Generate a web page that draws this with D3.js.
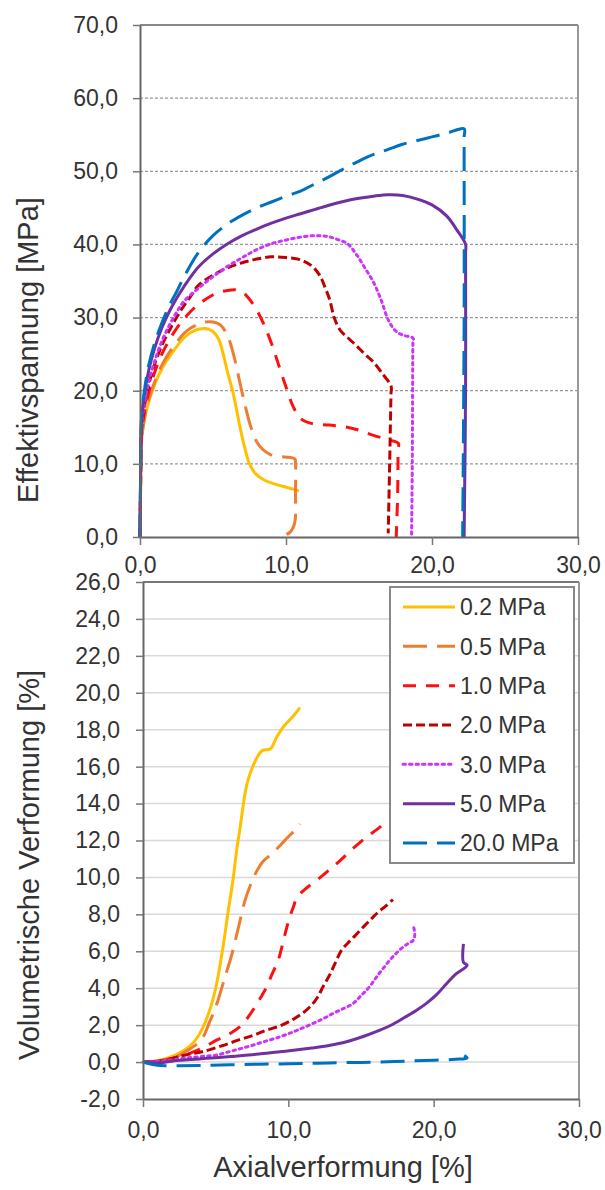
<!DOCTYPE html>
<html><head><meta charset="utf-8">
<script src="https://cdn.jsdelivr.net/npm/d3@7"></script>
<style>
html,body{margin:0;padding:0;background:#fff;}
svg{display:block;}
text{font-family:"Liberation Sans",Arial,sans-serif;fill:#333;}
</style></head>
<body><svg id="c" width="605" height="1190"></svg>
<script>
// ---------- DATA ----------
const seriesLabels = ["0.2 MPa","0.5 MPa","1.0 MPa","2.0 MPa","3.0 MPa","5.0 MPa","20.0 MPa"];
const xTicks = [0,10,20,30];
const yTicksTop = [0,10,20,30,40,50,60,70];
const yTicksBottom = [-2,0,2,4,6,8,10,12,14,16,18,20,22,24,26];

// Effektivspannung [MPa] vs Axialverformung [%]
const stress02 = [[0,0],[0.05,8],[0.1,13],[0.3,16],[0.6,18.5],[1,20.8],[1.5,23],[2,24.6],[2.5,26],[3,27.2],[3.5,28],[4,28.4],[4.5,28.5],[5,28.1],[5.4,27],[5.7,25],[6,22.5],[6.4,19.5],[6.8,15.5],[7.2,12],[7.5,10],[7.9,8.7],[8.5,7.8],[9.3,7.2],[10.2,6.7],[10.9,6.3]];
const stress05 = [[0,0],[0.05,8],[0.1,13],[0.3,16.2],[0.6,18.8],[1,21.2],[1.5,23.5],[2,25.2],[2.5,26.6],[3,27.8],[3.5,28.6],[4,29.1],[4.5,29.4],[5,29.4],[5.5,29],[6,27.5],[6.4,25],[6.8,21.5],[7.2,18],[7.6,15],[8,13],[8.4,12],[8.9,11.3],[9.5,11],[10.2,10.9],[10.6,10.7],[10.65,10.2],[10.65,6],[10.6,2],[10.3,0.7],[9.6,0]];
const stress10 = [[0,0],[0.05,9],[0.1,14],[0.3,17],[0.6,19.8],[1,22.5],[1.5,25],[2,26.9],[2.5,28.5],[3,29.8],[3.5,30.9],[4,31.8],[4.5,32.5],[5,33.1],[5.5,33.5],[6,33.7],[6.5,33.8],[7,33.5],[7.5,32.5],[8,31],[8.5,29],[9,26.5],[9.5,23.5],[10,20.5],[10.5,17.8],[11,16.2],[11.8,15.5],[13,15.3],[14.2,15],[15,14.6],[16,13.9],[17,13.3],[17.7,12.8],[17.68,12],[17.65,6],[17.55,0]];
const stress20 = [[0,0],[0.05,9],[0.1,14.5],[0.3,17.8],[0.6,20.8],[1,23.6],[1.5,26.2],[2,28.2],[2.5,30],[3,31.6],[3.5,33],[4,34.4],[5,35.8],[6,36.8],[7,37.5],[8,38],[9,38.3],[10,38.2],[11,37.9],[11.8,37],[12.3,35.8],[12.7,34],[13,32.4],[13.3,30],[13.7,28.3],[14.2,27.3],[14.8,26.2],[15.4,25],[16,23.9],[16.5,22.6],[17.2,20.6],[17.19,19.6],[17.1,10],[17.0,0.5]];
const stress30 = [[0,0],[0.05,9],[0.1,15],[0.3,18.2],[0.6,21.2],[1,24],[1.5,26.8],[2,28.9],[2.5,30.7],[3,32.2],[4,34],[5,35.6],[6,37],[7,38.2],[8,39.3],[9,40.1],[10,40.6],[11,41],[12,41.2],[12.8,41.1],[13.5,40.7],[14.2,40.1],[14.8,38.7],[15.4,36.8],[16,34.8],[16.5,32.5],[17,29.7],[17.5,28.2],[18,27.6],[18.7,27.2],[18.69,26.4],[18.65,10],[18.6,0]];
const stress50 = [[0,0],[0.05,10],[0.1,16],[0.3,19.5],[0.6,22.8],[1,25.8],[1.5,28.6],[2,30.8],[2.5,32.6],[3,34.2],[4,36.9],[5,38.7],[6,40.1],[7,41.2],[8,42.1],[9,42.9],[10,43.6],[11,44.2],[12,44.8],[13,45.4],[14,45.9],[15,46.3],[16,46.6],[17,46.8],[18,46.7],[19,46.2],[20,45.4],[21,43.9],[21.7,42],[22.3,40],[22.3,38.8],[22.3,20],[22.2,0]];
const stress200 = [[0,0],[0.05,10],[0.1,16],[0.3,20],[0.6,23.5],[1,26.5],[1.5,29.3],[2,31.6],[2.5,33.5],[3,35.5],[4,38.9],[5,41.2],[6,42.8],[7,44],[8,45],[9,45.8],[10,46.6],[11,47.3],[12,48.3],[13,49.3],[14,50.4],[15,51.4],[16,52.3],[17,53],[18,53.7],[19,54.2],[20,54.7],[21,55.2],[22.2,55.8],[22.2,54.6],[22.2,30],[22.1,0]];

// Volumetrische Verformung [%] vs Axialverformung [%]
const vol02 = [[0,0],[0.8,0.05],[1.6,0.2],[2.4,0.45],[3.2,0.85],[3.8,1.4],[4.5,2.6],[5,4],[5.5,6.2],[5.85,8.1],[6.2,9.9],[6.45,11.5],[6.7,12.8],[6.95,14.2],[7.2,15.2],[7.6,16.1],[8.1,16.8],[8.3,16.9],[8.75,16.95],[9.2,17.6],[9.7,18.2],[10.3,18.7],[10.8,19.2]];
const vol05 = [[0,0],[1,0.05],[2,0.2],[3,0.6],[4,1.2],[4.6,2.2],[5.1,3.2],[5.6,4.5],[6.1,5.8],[6.6,7.4],[7.0,8.7],[7.4,9.6],[7.8,10.3],[8.3,10.9],[8.9,11.3],[9.4,11.7],[10.0,12.2],[10.5,12.6],[10.8,12.9]];
const vol10 = [[0,0],[1,0.05],[2,0.2],[3,0.4],[3.5,0.56],[4.3,0.85],[5.06,1.19],[5.9,1.5],[6.65,1.9],[7.2,2.4],[7.72,3.0],[8.1,3.5],[8.51,4.08],[8.9,4.8],[9.31,5.53],[9.7,6.7],[10.0,7.6],[10.3,8.3],[10.64,8.96],[11.2,9.4],[11.97,9.86],[12.8,10.4],[13.6,10.94],[14.5,11.6],[15.4,12.2],[16.1,12.6],[16.7,13.0]];
const vol20 = [[0,0],[1,0.05],[2,0.2],[3,0.4],[4,0.55],[4.5,0.65],[5.5,0.9],[6.6,1.2],[7.6,1.45],[8.5,1.73],[9.4,1.95],[10.3,2.3],[10.9,2.6],[11.5,3.0],[12.0,3.5],[12.4,4.1],[12.9,4.8],[13.3,5.5],[13.7,6.1],[14.1,6.45],[14.6,6.85],[15.2,7.35],[15.7,7.75],[16.1,8.06],[16.7,8.45],[17.2,8.8]];
const vol30 = [[0,0],[1,0.03],[2,0.12],[3,0.22],[4,0.3],[5.06,0.38],[6.1,0.6],[7.19,0.83],[8.3,1.1],[9.43,1.37],[10.34,1.64],[11.0,1.85],[11.72,2.1],[12.4,2.35],[13.1,2.64],[13.8,2.9],[14.47,3.18],[15.0,3.6],[15.39,3.9],[15.8,4.3],[16.08,4.62],[16.5,5.05],[16.99,5.53],[17.5,5.95],[17.92,6.24],[18.3,6.45],[18.6,6.6],[18.7,6.9],[18.6,7.4]];
const vol50 = [[0,0],[1,-0.05],[2,0.05],[3,0.12],[4,0.18],[5,0.24],[6.1,0.3],[7.5,0.4],[8.5,0.48],[9.43,0.56],[10.5,0.65],[11.6,0.76],[12.8,0.9],[14.0,1.1],[15.2,1.4],[16.3,1.73],[17.2,2.05],[18.1,2.46],[18.9,2.85],[19.5,3.18],[20.2,3.65],[20.9,4.26],[21.5,4.75],[22.3,5.25],[22.05,5.4],[22.05,6.4]];
const vol200 = [[0,0],[0.5,-0.1],[1,-0.17],[1.5,-0.2],[2.5,-0.2],[4,-0.18],[6,-0.15],[8,-0.12],[10,-0.09],[12,-0.06],[14,-0.03],[16,0.0],[18,0.05],[20,0.1],[21.5,0.15],[22.3,0.22],[22.1,0.35]];

// ---------- STYLES ----------
const colors = ["#FFC000","#ED7D31","#FF1010","#C00000","#CC33FF","#7030A0","#0070C0"];
const dashes = [null,"24,10","13,10","9,4","2.5,4",null,"24,10"];
const stressSeries = [stress02,stress05,stress10,stress20,stress30,stress50,stress200];
const volSeries = [vol02,vol05,vol10,vol20,vol30,vol50,vol200];

const svg = d3.select("#c");
const fmt = d => d.toFixed(1).replace(".", ",");
const FS = 23;

// ---------- TOP CHART ----------
const xT = d3.scaleLinear().domain([0,30]).range([140,578]);
const yT = d3.scaleLinear().domain([0,70]).range([537,25]);

const gT = svg.append("g");
gT.selectAll("line.grid").data(yTicksTop.filter(d=>d>0 && d<70)).join("line")
  .attr("x1", xT(0)).attr("x2", xT(30)).attr("y1", d=>yT(d)).attr("y2", d=>yT(d))
  .attr("stroke","#999").attr("stroke-width",1.3).attr("stroke-dasharray","3,2");
gT.append("line").attr("x1",xT(0)).attr("x2",xT(30)).attr("y1",yT(70)).attr("y2",yT(70)).attr("stroke","#888").attr("stroke-width",2);
gT.append("line").attr("x1",xT(30)).attr("x2",xT(30)).attr("y1",yT(70)).attr("y2",yT(0)).attr("stroke","#999").attr("stroke-width",2);

const axLT = gT.append("g").attr("transform",`translate(${xT(0)},0)`)
  .call(d3.axisLeft(yT).tickValues(yTicksTop).tickSize(7).tickSizeOuter(0).tickPadding(15).tickFormat(fmt));
const axBT = gT.append("g").attr("transform",`translate(0,${yT(0)})`)
  .call(d3.axisBottom(xT).tickValues(xTicks).tickSize(8).tickSizeOuter(0).tickPadding(12).tickFormat(fmt));

// ---------- BOTTOM CHART ----------
const xB = d3.scaleLinear().domain([0,30]).range([143,579]);
const yB = d3.scaleLinear().domain([-2,26]).range([1099,582]);
const gB = svg.append("g");
gB.selectAll("line.grid").data(yTicksBottom.filter(d=>d>-2 && d<26)).join("line")
  .attr("x1", xB(0)).attr("x2", xB(30)).attr("y1", d=>yB(d)).attr("y2", d=>yB(d))
  .attr("stroke","#d9d9d9").attr("stroke-width",1.5);
gB.append("line").attr("x1",xB(0)).attr("x2",xB(30)).attr("y1",yB(26)).attr("y2",yB(26)).attr("stroke","#777").attr("stroke-width",2);
gB.append("line").attr("x1",xB(30)).attr("x2",xB(30)).attr("y1",yB(26)).attr("y2",yB(-2)).attr("stroke","#999").attr("stroke-width",2);

const axLB = gB.append("g").attr("transform",`translate(${xB(0)},0)`)
  .call(d3.axisLeft(yB).tickValues(yTicksBottom).tickSize(7).tickSizeOuter(0).tickPadding(16).tickFormat(fmt));
const axBB = gB.append("g").attr("transform",`translate(0,${yB(-2)})`)
  .call(d3.axisBottom(xB).tickValues(xTicks).tickSize(8).tickSizeOuter(0).tickPadding(15).tickFormat(fmt));

[axLT,axBT,axLB,axBB].forEach(a=>{
  a.select(".domain").attr("stroke","#666").attr("stroke-width",2);
  a.selectAll(".tick line").attr("stroke","#777").attr("stroke-width",1.5);
  a.selectAll(".tick text").attr("font-size",FS).attr("fill","#333")
    .style("font-family","'Liberation Sans',Arial,sans-serif");
});

// ---------- CURVES ----------
const lineT = d3.line().x(d=>xT(d[0])).y(d=>yT(d[1])).curve(d3.curveCatmullRom.alpha(0.5));
const lineB = d3.line().x(d=>xB(d[0])).y(d=>yB(d[1])).curve(d3.curveCatmullRom.alpha(0.5));

stressSeries.forEach((s,i)=>{
  gT.append("path").attr("d", lineT(s)).attr("fill","none")
    .attr("stroke",colors[i]).attr("stroke-width",3)
    .attr("stroke-dasharray",dashes[i]).attr("stroke-linejoin","round")
    .attr("stroke-linecap", i===4 ? "round" : "butt");
});
volSeries.forEach((s,i)=>{
  gB.append("path").attr("d", lineB(s)).attr("fill","none")
    .attr("stroke",colors[i]).attr("stroke-width",3)
    .attr("stroke-dasharray",dashes[i]).attr("stroke-linejoin","round")
    .attr("stroke-linecap", i===4 ? "round" : "butt");
});
gT.node().appendChild(axLT.node()); gT.node().appendChild(axBT.node());
gB.node().appendChild(axLB.node()); gB.node().appendChild(axBB.node());

// ---------- LEGEND ----------
const leg = svg.append("g");
leg.append("rect").attr("x",390).attr("y",587).attr("width",184).attr("height",276)
  .attr("fill","#fff").attr("stroke","#888").attr("stroke-width",2);
const legY = d3.scalePoint().domain(seriesLabels).range([607,843]);
seriesLabels.forEach((lab,i)=>{
  const y = legY(lab);
  leg.append("line").attr("x1",403).attr("x2",455).attr("y1",y).attr("y2",y)
    .attr("stroke",colors[i]).attr("stroke-width",3).attr("stroke-dasharray",dashes[i])
    .attr("stroke-linecap", i===4 ? "round" : "butt");
  leg.append("text").attr("x",460).attr("y",y).attr("dy","0.36em")
    .attr("font-size",FS).text(lab);
});

// ---------- TITLES ----------
svg.append("text").attr("transform","translate(38,350) rotate(-90)")
  .attr("text-anchor","middle").attr("font-size",29).text("Effektivspannung [MPa]");
svg.append("text").attr("transform","translate(39,865) rotate(-90)")
  .attr("text-anchor","middle").attr("font-size",29).text("Volumetrische Verformung [%]");
svg.append("text").attr("x",343).attr("y",1177)
  .attr("text-anchor","middle").attr("font-size",29).text("Axialverformung [%]");
</script></body></html>
